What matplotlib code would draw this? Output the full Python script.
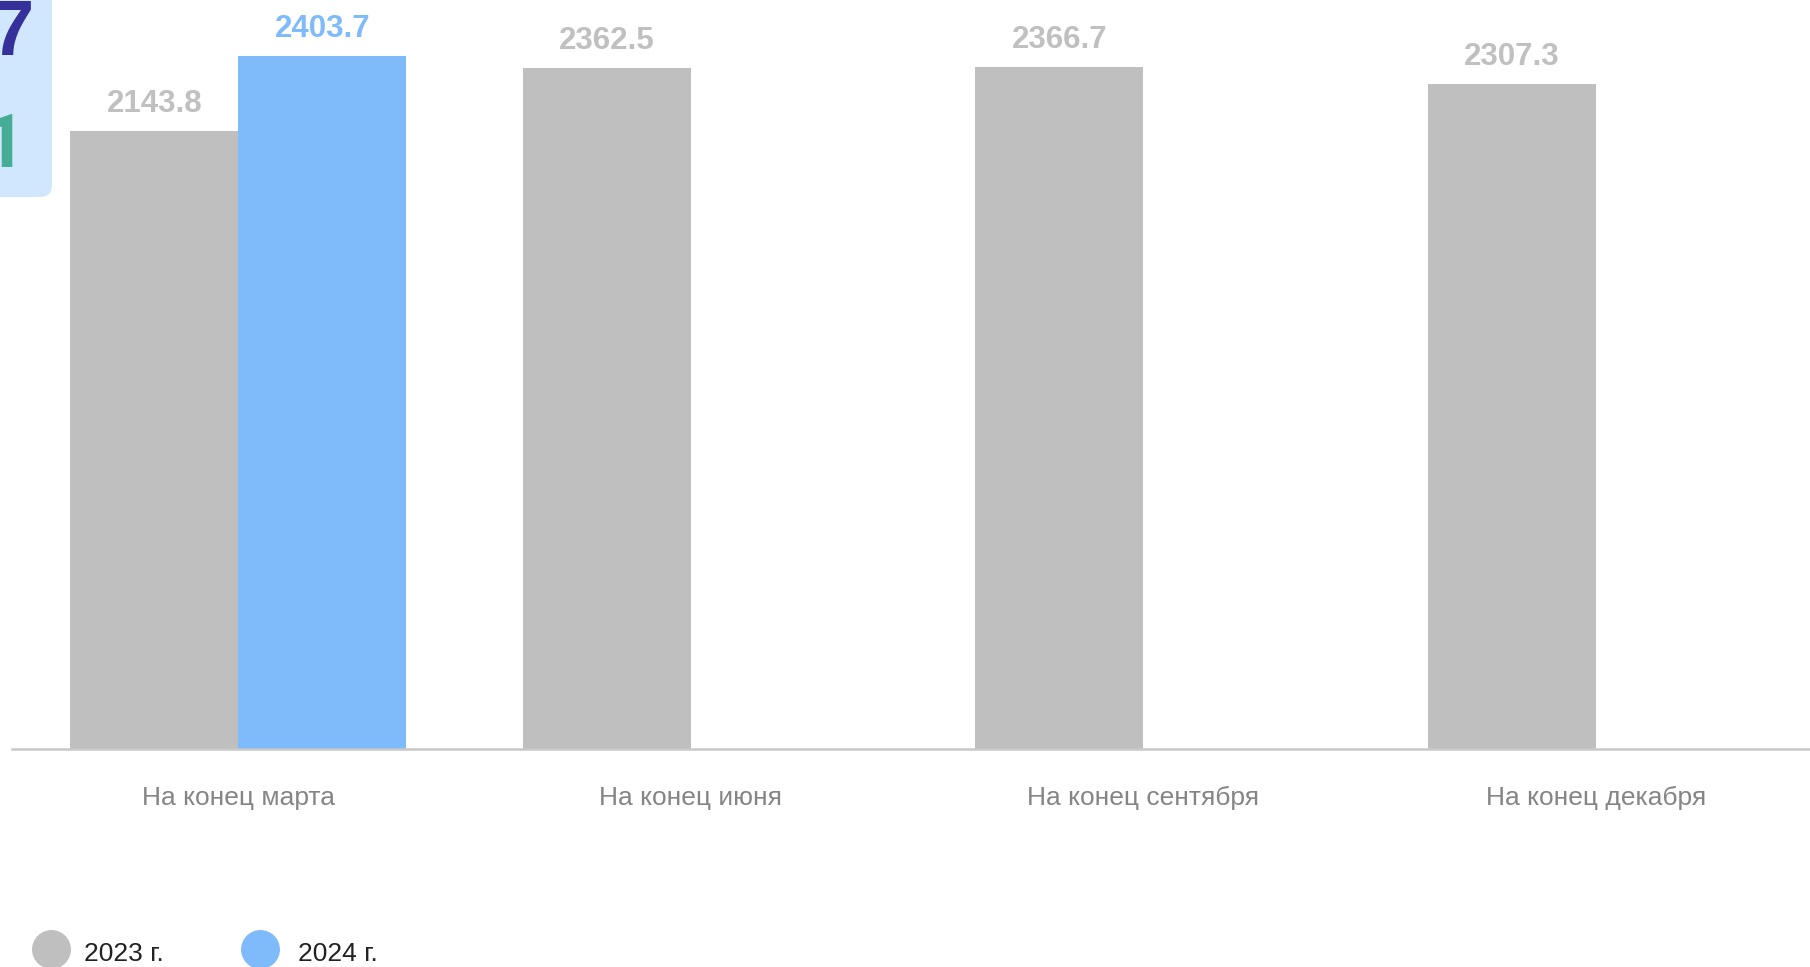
import numpy as np
import matplotlib.pyplot as plt
from matplotlib.lines import Line2D
from matplotlib.patches import FancyBboxPatch

plt.rcParams['font.family'] = ['Liberation Sans', 'DejaVu Sans']

# donnees
categories = ['На конец марта', 'На конец июня', 'На конец сентября', 'На конец декабря']
vals_2023 = [2143.8, 2362.5, 2366.7, 2307.3]
vals_2024 = [2403.7, None, None, None]
series_names = ['2023 г.', '2024 г.']

c_gray = '#bfbfbf'
c_blue = '#7fbbfa'
c_lbl_gray = '#c0c0c0'

W, H = 1810, 967
fig = plt.figure(figsize=(W/100, H/100), dpi=100)

# axes en pixels: ligne de base a y=749, echelle 0.28831 px/unite
ax = fig.add_axes([12/W, (H-749)/H, 1810/W, 749/H])
ax.set_xlim(-0.5, 3.5)
ax.set_ylim(0, 749/0.28831)

x = np.arange(len(categories))
bw = 0.371
off = bw/2

ax.bar(x - off, vals_2023, width=bw, color=c_gray, zorder=2)
x24 = [xi + off for xi, v in zip(x, vals_2024) if v is not None]
v24 = [v for v in vals_2024 if v is not None]
ax.bar(x24, v24, width=bw, color=c_blue, zorder=2)

# etiquettes des valeurs
for xi, v in zip(x - off, vals_2023):
    ax.annotate(f'{v:.1f}', (xi, v), xytext=(0, 13.5), textcoords='offset points',
                ha='center', va='baseline', fontsize=22.5, fontweight='bold', color=c_lbl_gray)
for xi, v in zip(x24, v24):
    ax.annotate(f'{v:.1f}', (xi, v), xytext=(0, 13.5), textcoords='offset points',
                ha='center', va='baseline', fontsize=22.5, fontweight='bold', color=c_blue)

# categories
for xi, cat in zip(x, categories):
    ax.annotate(cat, (xi, 0), xytext=(0, -35.5), textcoords='offset points',
                ha='center', va='center', fontsize=19, color='#858585')

for s in ['top', 'left', 'right']:
    ax.spines[s].set_visible(False)
ax.spines['bottom'].set_color('#c8c8c8')
ax.spines['bottom'].set_linewidth(1.8)
ax.set_xticks([])
ax.set_yticks([])
ax.patch.set_alpha(0)

# boite bleue coupee en haut a gauche
box = FancyBboxPatch((-0.6, (H-197)/100), 1.12, 3.0, boxstyle='round,pad=0,rounding_size=0.12',
                     transform=fig.dpi_scale_trans, facecolor='#d0e7fd', edgecolor='none', zorder=0)
fig.add_artist(box)
fig.text(34/W, (H-55)/H, '7', ha='right', va='baseline', fontsize=56, fontweight='bold', color='#35309a')
fig.text(26/W, (H-167)/H, '1', ha='right', va='baseline', fontsize=54, fontweight='bold',
         color='#45ad96', family=['Roboto', 'DejaVu Sans'])

# legende
leg_cols = [c_gray, c_blue]
leg_x = [51, 260]
leg_tx = [84, 298]
for lx, tx, col, name in zip(leg_x, leg_tx, leg_cols, series_names):
    fig.add_artist(Line2D([lx/100], [(H-949)/100], transform=fig.dpi_scale_trans, marker='o',
                          markersize=27, color=col, linestyle='none'))
    fig.text(tx/W, (H-954)/H, name, ha='left', va='center', fontsize=19, color='#222222')

fig.savefig('out.png', dpi=100)
